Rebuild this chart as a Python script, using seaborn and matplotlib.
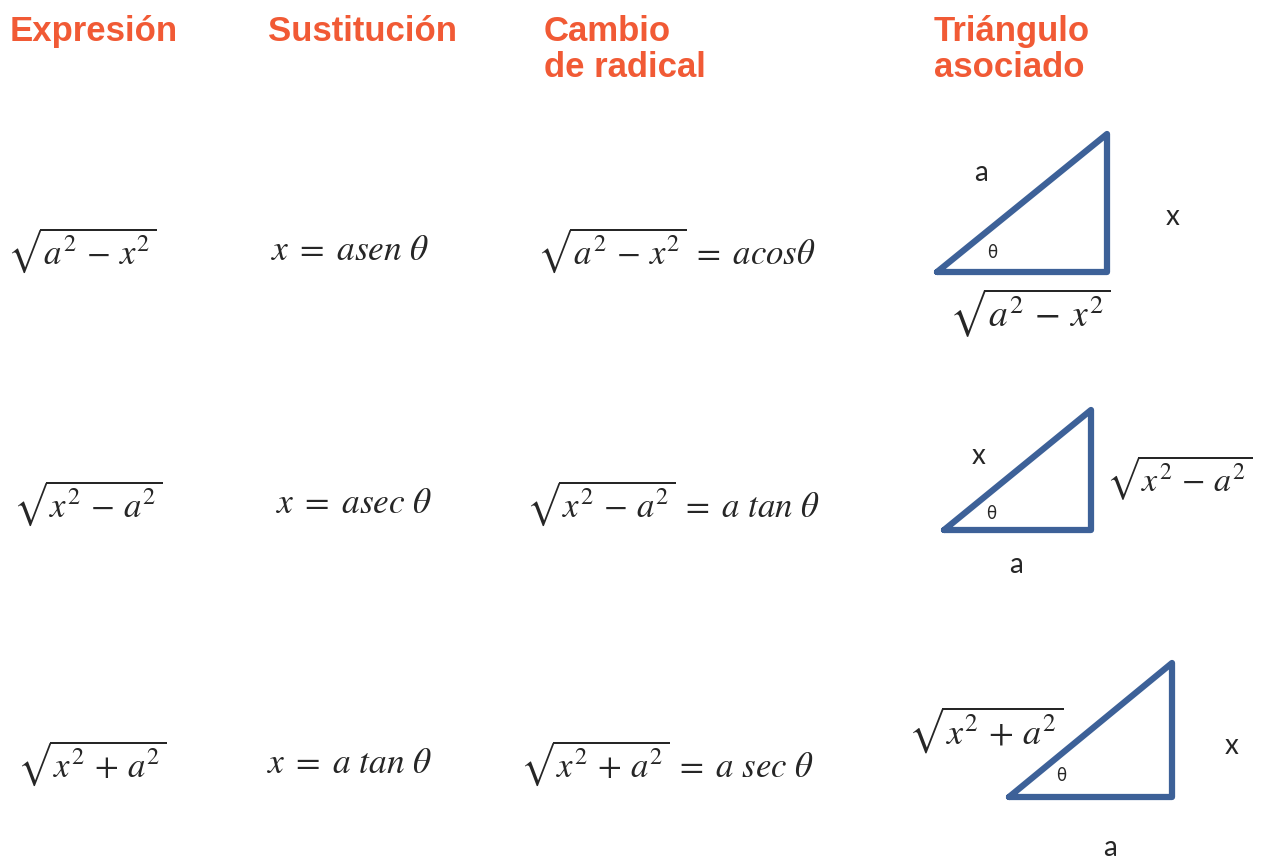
import matplotlib
matplotlib.use("Agg")
import matplotlib.pyplot as plt
import seaborn as sns

# column headers
headers = ["Expresión", "Sustitución", "Cambio\nde radical", "Triángulo\nasociado"]
header_x = [10, 268, 544, 934]

# table rows
expresiones = [r"$\sqrt{a^2\,-\,x^2}$", r"$\sqrt{x^2\,-\,a^2}$", r"$\sqrt{x^2\,+\,a^2}$"]
sustituciones = [r"$x\;=\;asen\ \theta$", r"$x\;=\;asec\ \theta$", r"$x\;=\;a\ tan\ \theta$"]
cambios = [r"$\sqrt{a^2\,-\,x^2}\;=\;acos\theta$",
           r"$\sqrt{x^2\,-\,a^2}\;=\;a\ tan\ \theta$",
           r"$\sqrt{x^2\,+\,a^2}\;=\;a\ sec\ \theta$"]
row_y = [250, 503, 763]
expr_x = [7, 13, 17]
sust_x = [271, 276, 267]
camb_x = [537, 526, 520]

# triangle vertices (closed)
tri_x = [[937, 1107, 1107, 937], [944, 1091, 1091, 944], [1009, 1172, 1172, 1009]]
tri_y = [[272, 134, 272, 272], [530, 410, 530, 530], [797, 663, 797, 797]]

# triangle side labels: (text, x, y, kind, size)
tri_labels = [
    ("a", 981, 173, "s", 20), ("x", 1173, 217, "s", 20), (r"θ", 992, 253, "t", 12),
    (r"$\sqrt{a^2\,-\,x^2}$", 949, 313, "m", 27),
    ("x", 979, 456, "s", 20), (r"θ", 991, 514, "t", 12), ("a", 1016, 565, "s", 20),
    (r"$\sqrt{x^2\,-\,a^2}$", 1106, 478, "m", 24.5),
    (r"$\sqrt{x^2\,+\,a^2}$", 908, 730, "m", 26), (r"θ", 1061, 776, "t", 12),
    ("x", 1232, 746, "s", 20), ("a", 1110, 848, "s", 20),
]

sns.set_theme(style="white")
plt.rcParams["mathtext.fontset"] = "stix"

fig = plt.figure(figsize=(12.63, 8.61), dpi=100)
ax = fig.add_axes([0, 0, 1, 1])
ax.set_xlim(0, 1263)
ax.set_ylim(861, 0)
ax.axis("off")

orange = "#f15a35"
for h, x in zip(headers, header_x):
    ax.text(x, 15, h, color=orange, fontsize=25, family="Liberation Sans",
            fontweight="bold", va="top", ha="left", linespacing=1.1)

for i, y in enumerate(row_y):
    ax.text(expr_x[i], y, expresiones[i], fontsize=25, va="center", ha="left")
    ax.text(sust_x[i], y, sustituciones[i], fontsize=25.5, va="center", ha="left")
    ax.text(camb_x[i], y, cambios[i], fontsize=25, va="center", ha="left")

blue = "#3d6198"
for xs, ys in zip(tri_x, tri_y):
    sns.lineplot(x=xs, y=ys, sort=False, estimator=None, ax=ax,
                 color=blue, linewidth=4.5, solid_joinstyle="round",
                 solid_capstyle="round")

for txt, x, y, kind, size in tri_labels:
    if kind == "m":
        ax.text(x, y, txt, fontsize=size, va="center", ha="left")
    elif kind == "t":
        ax.text(x, y, txt, fontsize=size, va="center", ha="center", family="DejaVu Sans")
    else:
        ax.text(x, y, txt, fontsize=size, va="center", ha="center", family="Lato")

fig.savefig("out.png", dpi=100)
